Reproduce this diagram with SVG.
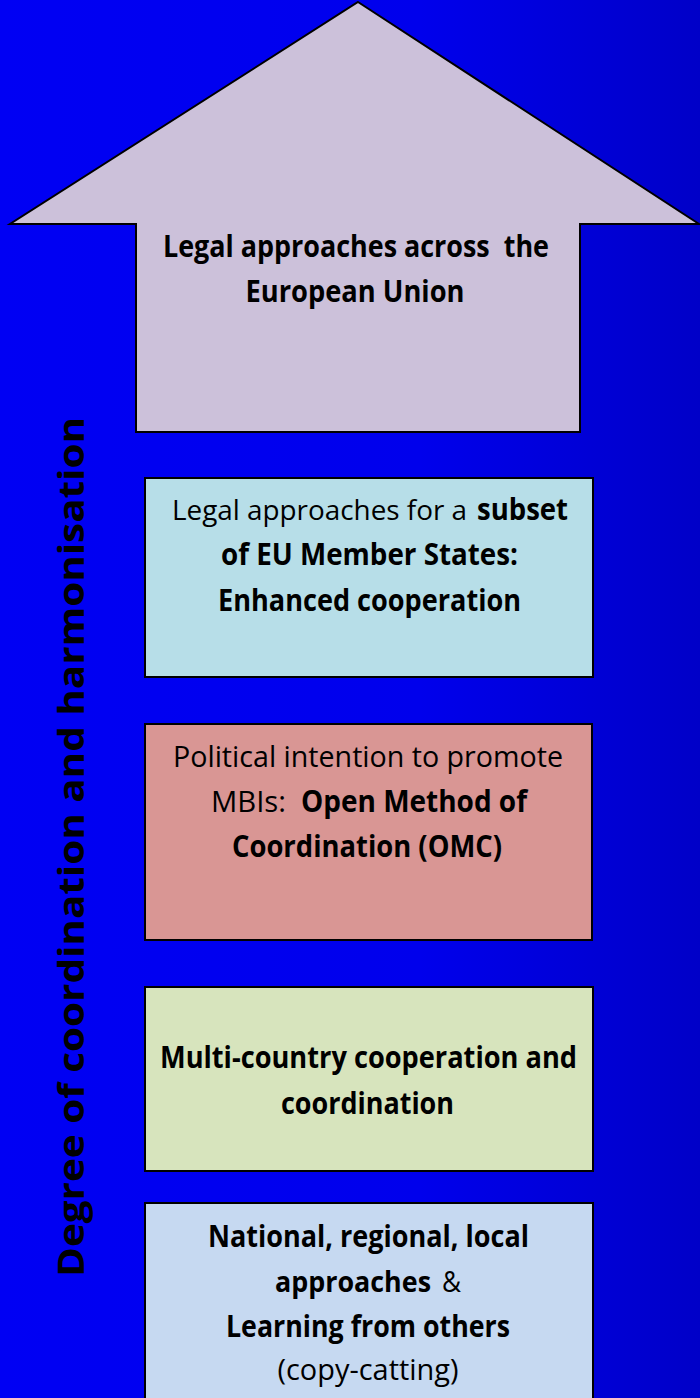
<svg xmlns="http://www.w3.org/2000/svg" width="700" height="1398" viewBox="0 0 700 1398">
  <defs>
    <linearGradient id="bg" x1="0" y1="0" x2="1" y2="0">
      <stop offset="0" stop-color="#0000F4"/>
      <stop offset="0.6" stop-color="#0000EC"/>
      <stop offset="1" stop-color="#0000C8"/>
    </linearGradient>
    <style>
      .box { stroke: #000; stroke-width: 2; }
      .t { font-family: "Open Sans", "Noto Sans", "Liberation Sans", sans-serif; font-size: 30px; fill: #000; text-anchor: middle; }
      .s { text-anchor: start; }
      .sm { font-size: 28px; }
      .b { font-weight: bold; }
      .n { font-weight: normal; }
      .axis { font-family: "Open Sans", "Noto Sans", "DejaVu Sans", sans-serif; font-size: 36px; font-weight: bold; fill: #000; text-anchor: middle; }
    </style>
  </defs>

  <!-- background -->
  <rect x="0" y="0" width="700" height="1398" fill="url(#bg)"/>

  <!-- vertical axis label -->
  <g id="axis-label">
    <text class="axis" transform="translate(84 847) rotate(-90)" textLength="860" lengthAdjust="spacingAndGlyphs">Degree of coordination and harmonisation</text>
  </g>

  <!-- top level: block arrow -->
  <g id="eu-wide">
    <path class="box" fill="#CCC1DA" d="M358 2 L699 224 L580 224 L580 432 L136 432 L136 224 L10 224 Z"/>
    <text class="t b" x="356" y="257" textLength="386" lengthAdjust="spacingAndGlyphs">Legal approaches across&#160; the</text>
    <text class="t b" x="355" y="302" textLength="219" lengthAdjust="spacingAndGlyphs">European Union</text>
  </g>

  <!-- enhanced cooperation -->
  <g id="enhanced-cooperation">
    <rect class="box" fill="#B7DEE8" x="145" y="478" width="448" height="199"/>
    <text class="t s sm n" x="172" y="520" textLength="295" lengthAdjust="spacingAndGlyphs">Legal approaches for a</text>
    <text class="t s b" x="477" y="520" textLength="91" lengthAdjust="spacingAndGlyphs">subset</text>
    <text class="t b" x="369.5" y="565" textLength="297" lengthAdjust="spacingAndGlyphs">of EU Member States:</text>
    <text class="t b" x="369.5" y="611" textLength="303" lengthAdjust="spacingAndGlyphs">Enhanced cooperation</text>
  </g>

  <!-- open method of coordination -->
  <g id="omc">
    <rect class="box" fill="#D99694" x="145" y="724" width="447" height="216"/>
    <text class="t n" x="368" y="767" textLength="390" lengthAdjust="spacingAndGlyphs">Political intention to promote</text>
    <text class="t s n" x="211" y="812" textLength="75" lengthAdjust="spacingAndGlyphs">MBIs:</text>
    <text class="t s b" x="301" y="812" textLength="226" lengthAdjust="spacingAndGlyphs">Open Method of</text>
    <text class="t b" x="367" y="857" textLength="270" lengthAdjust="spacingAndGlyphs">Coordination (OMC)</text>
  </g>

  <!-- multi-country cooperation -->
  <g id="multi-country">
    <rect class="box" fill="#D7E4BD" x="145" y="987" width="448" height="184"/>
    <text class="t b" x="368.5" y="1068" textLength="417" lengthAdjust="spacingAndGlyphs">Multi-country cooperation and</text>
    <text class="t b" x="367.5" y="1114" textLength="173" lengthAdjust="spacingAndGlyphs">coordination</text>
  </g>

  <!-- national / regional / local -->
  <g id="national">
    <rect class="box" fill="#C6D9F1" x="145" y="1203" width="448" height="205"/>
    <text class="t b" x="368.5" y="1247" textLength="321" lengthAdjust="spacingAndGlyphs">National, regional, local</text>
    <text class="t s sm b" x="275" y="1292" textLength="156" lengthAdjust="spacingAndGlyphs">approaches</text>
    <text class="t s n" x="442" y="1292" textLength="19" lengthAdjust="spacingAndGlyphs">&amp;</text>
    <text class="t b" x="368" y="1337" textLength="284" lengthAdjust="spacingAndGlyphs">Learning from others</text>
    <text class="t n" x="368" y="1380" textLength="181" lengthAdjust="spacingAndGlyphs">(copy-catting)</text>
  </g>
</svg>
